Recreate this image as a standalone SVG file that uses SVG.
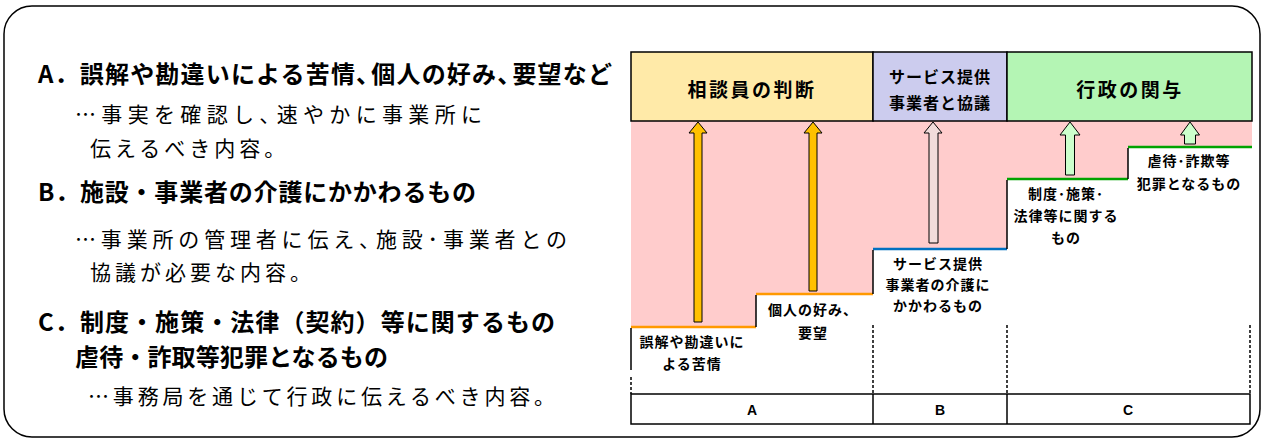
<svg xmlns="http://www.w3.org/2000/svg" width="1263" height="441" viewBox="0 0 1263 441">
<style>
.jp{font-family:"Noto Sans CJK JP","Noto Sans CJK SC",sans-serif;fill:#000;dominant-baseline:central}
.main{font-size:24px;font-weight:bold}
.sub{font-size:21px;font-weight:normal}
.lbl{font-size:14px;font-weight:bold;text-anchor:middle;letter-spacing:1px}
.hdr{font-size:19px;font-weight:bold;text-anchor:middle;letter-spacing:2.5px}
.hdr2{font-size:16px;font-weight:bold;text-anchor:middle;letter-spacing:1px}
.abc{font-family:"Liberation Sans",Arial,sans-serif;font-size:14px;font-weight:bold;text-anchor:middle;dominant-baseline:central}
.edge{stroke:#000;stroke-width:1.5;fill:none}
.dash{stroke:#000;stroke-width:1.5;stroke-dasharray:3 2;fill:none}
.arr{stroke:#000;stroke-width:1}
</style>
<rect x="4" y="6" width="1256" height="431" rx="28" ry="28" fill="#fff" stroke="#000" stroke-width="1.5"/>

<g id="left-text">
<text class="jp main" x="38" y="72" textLength="574" lengthAdjust="spacing">A．誤解や勘違いによる苦情、<tspan dx="-10">個人の好み、</tspan><tspan dx="-10">要望など</tspan></text>
<text class="jp sub" x="75" y="113" textLength="407" lengthAdjust="spacing">…事実を確認し、<tspan dx="-9">速やかに事業所に</tspan></text>
<text class="jp sub" x="90" y="147" letter-spacing="4">伝えるべき内容。</text>
<text class="jp main" x="38" y="190" textLength="438" lengthAdjust="spacing">B．施設・事業者の介護にかかわるもの</text>
<text class="jp sub" x="75" y="238" textLength="492" lengthAdjust="spacing">…事業所の管理者に伝え、<tspan dx="-9">施設･事業者との</tspan></text>
<text class="jp sub" x="90" y="271" letter-spacing="4">協議が必要な内容。</text>
<text class="jp main" x="38" y="320" textLength="517" lengthAdjust="spacing">C．制度・施策・法律（契約）等に関するもの</text>
<text class="jp main" x="75" y="355" textLength="313" lengthAdjust="spacing">虐待・詐取等犯罪となるもの</text>
<text class="jp sub" x="88" y="395" textLength="467" lengthAdjust="spacing">…事務局を通じて行政に伝えるべき内容。</text>
</g>

<g id="chart-background">
<polygon points="631,121 1252,121 1252,147 1128,147 1128,179 1007,179 1007,249 873,249 873,294 756,294 756,327 631,327" fill="#FFCCCC"/>
</g>

<g id="header-A"><rect x="631" y="52" width="242" height="69" fill="#FFEAA8" stroke="#000" stroke-width="1.5"/><text class="jp hdr" x="752" y="88">相談員の判断</text></g>
<g id="header-B"><rect x="873" y="52" width="134" height="69" fill="#CCCCEE" stroke="#000" stroke-width="1.5"/><text class="jp hdr2" x="940" y="76">サービス提供</text><text class="jp hdr2" x="940" y="102">事業者と協議</text></g>
<g id="header-C"><rect x="1007" y="52" width="245" height="69" fill="#B4F5B4" stroke="#000" stroke-width="1.5"/><text class="jp hdr" x="1130" y="88">行政の関与</text></g>

<g id="steps">
<line x1="631" y1="327" x2="756" y2="327" stroke="#FF9900" stroke-width="2.5"/>
<line x1="756" y1="294" x2="873" y2="294" stroke="#FF9900" stroke-width="2.5"/>
<line x1="873" y1="249" x2="1007" y2="249" stroke="#0070C0" stroke-width="2.5"/>
<line x1="1007" y1="179" x2="1128" y2="179" stroke="#00A300" stroke-width="2.5"/>
<line x1="1128" y1="147" x2="1252" y2="147" stroke="#00A300" stroke-width="2.5"/>
<path class="edge" d="M631,328 V370 M756,295 V327 M873,250 V294 M1007,180 V249 M1128,148 V179"/>
<path class="dash" d="M631,377 V394 M873,325 V394 M1007,325 V394 M1250,325 V394"/>
</g>

<g id="connectors">
<polygon class="arr" fill="#FFC000" points="698,122 707,133 702,133 702,322 694,322 694,133 689,133"/>
<polygon class="arr" fill="#FFC000" points="813,122 822,133 817,133 817,291 809,291 809,133 804,133"/>
<polygon class="arr" fill="#F2DCDB" points="933,122 942,133 938,133 938,243 929,243 929,133 924,133"/>
<polygon class="arr" fill="#CCFFCC" points="1070,122 1080,135 1074.5,135 1074.5,175 1065.5,175 1065.5,135 1060,135"/>
<polygon class="arr" fill="#CCFFCC" points="1190,122 1199.5,135 1195.5,135 1195.5,144 1184.5,144 1184.5,135 1180.5,135"/>
</g>

<g id="label-A1"><text class="jp lbl" x="692" y="341">誤解や勘違いに</text><text class="jp lbl" x="692" y="363">よる苦情</text></g>
<g id="label-A2"><text class="jp lbl" x="813" y="309">個人の好み、</text><text class="jp lbl" x="813" y="332">要望</text></g>
<g id="label-B"><text class="jp lbl" x="938" y="263">サービス提供</text><text class="jp lbl" x="938" y="284">事業者の介護に</text><text class="jp lbl" x="938" y="305">かかわるもの</text></g>
<g id="label-C1"><text class="jp lbl" x="1066" y="193">制度･施策･</text><text class="jp lbl" x="1066" y="215">法律等に関する</text><text class="jp lbl" x="1066" y="237">もの</text></g>
<g id="label-C2"><text class="jp lbl" x="1189" y="160">虐待･詐欺等</text><text class="jp lbl" x="1189" y="183">犯罪となるもの</text></g>

<g id="bottom-row">
<rect x="631" y="394" width="619" height="30" fill="#fff" stroke="#000" stroke-width="1.5"/>
<line x1="873" y1="394" x2="873" y2="424" stroke="#000" stroke-width="1.5"/>
<line x1="1007" y1="394" x2="1007" y2="424" stroke="#000" stroke-width="1.5"/>
<text class="abc" x="752" y="410">A</text>
<text class="abc" x="940" y="410">B</text>
<text class="abc" x="1128" y="410">C</text>
</g>
</svg>
